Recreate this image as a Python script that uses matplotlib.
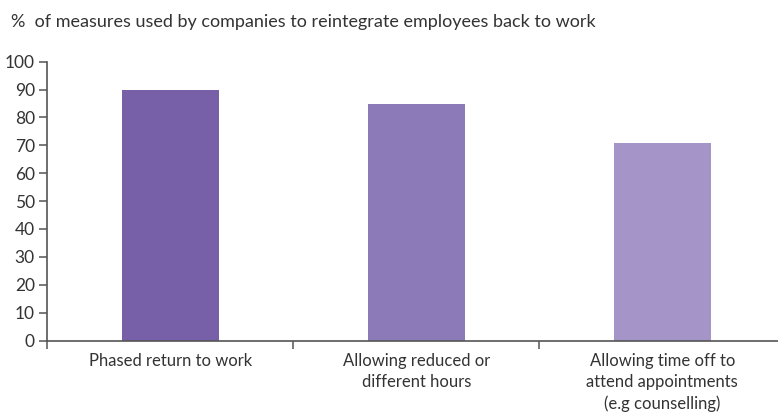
import matplotlib
matplotlib.use("Agg")
import matplotlib.pyplot as plt
from matplotlib.ticker import FixedLocator

categories = [
    "Phased return to work",
    "Allowing reduced or\ndifferent hours",
    "Allowing time off to\nattend appointments\n(e.g counselling)",
]
values = [90, 85, 71]
colors = ["#7860A8", "#8C79B7", "#A594C7"]
yticks = list(range(0, 101, 10))
title = "%  of measures used by companies to reintegrate employees back to work"

text_color = "#333333"
axis_color = "#555555"
plt.rcParams["font.family"] = ["Lato", "DejaVu Sans"]

fig = plt.figure(figsize=(7.78, 4.13), dpi=100)
W, H = 778, 413
x0, x1 = 47.3, 778
y0, y1 = 340.5, 61.7
ax = fig.add_axes([x0 / W, (H - y0) / H, (x1 - x0) / W, (y0 - y1) / H])

pos = [i + 0.5 for i in range(len(categories))]
ax.bar(pos, values, width=0.395, color=colors, zorder=2)

ax.set_xlim(0, (x1 - x0) / 246)
ax.set_ylim(0, 100)

for s in ["top", "right"]:
    ax.spines[s].set_visible(False)
for s in ["left", "bottom"]:
    ax.spines[s].set_color(axis_color)
    ax.spines[s].set_linewidth(1.2)
ax.spines["left"].set_bounds(0, 100)

ax.set_yticks(yticks)
ax.set_yticklabels([str(t) for t in yticks])
ax.tick_params(axis="y", direction="out", length=6, width=1.1, color=axis_color,
               labelsize=12.5, labelcolor=text_color, pad=3)

ax.xaxis.set_major_locator(FixedLocator([0, 1, 2]))
ax.xaxis.set_minor_locator(FixedLocator(pos))
ax.set_xticklabels(["", "", ""])
ax.set_xticklabels(categories, minor=True)
ax.tick_params(axis="x", which="major", direction="out", length=6, width=1.1, color=axis_color)
ax.tick_params(axis="x", which="minor", length=0, labelsize=12, labelcolor=text_color, pad=9)
for lbl in ax.get_xticklabels(minor=True):
    lbl.set_linespacing(1.38)

fig.text(11 / W, 1 - 22 / H, title, fontsize=13, color=text_color, ha="left", va="center")

fig.savefig("out.png", dpi=100, facecolor="white")
